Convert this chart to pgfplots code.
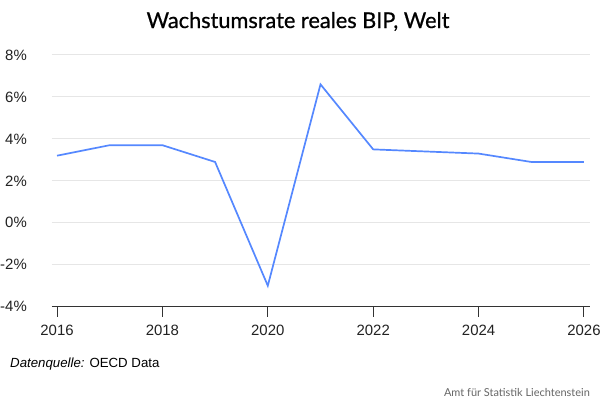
\documentclass[border=0pt]{standalone}
\usepackage{fontspec}
\setmainfont{Liberation Sans}
\newfontfamily\titlefont{Lato}
\newfontfamily\titlefontb[FakeBold=0.7]{Lato}
\usepackage{pgfplots}
\pgfplotsset{compat=1.18}
\definecolor{linecol}{RGB}{85,136,255}
\definecolor{gridcol}{RGB}{230,230,230}
\definecolor{axiscol}{RGB}{51,51,51}
\definecolor{textcol}{RGB}{34,34,34}
\definecolor{footcol}{RGB}{102,102,102}
\begin{document}
\begin{tikzpicture}
\useasboundingbox[fill=white] (0,0) rectangle (600bp,-400bp);
\begin{axis}[
  at={(52bp,-306.7bp)}, anchor=south west,
  scale only axis, width=538bp, height=251.7bp,
  xmin=2015.905, xmax=2026.114, ymin=-4, ymax=8,
  xtick={2016,2018,2020,2022,2024,2026},
  xticklabels={2016,2018,2020,2022,2024,2026},
  ytick={-4,-2,0,2,4,6,8},
  yticklabels={-4\%,-2\%,0\%,2\%,4\%,6\%,8\%},
  axis lines*=left,
  axis x line*=bottom,
  x axis line style={draw=axiscol, line width=1bp, -},
  y axis line style={draw=none, -},
  ymajorgrids, grid style={draw=gridcol, line width=1bp},
  tick align=outside,
  xtick style={draw=axiscol, line width=1bp},
  major tick length=10bp,
  ytick style={draw=none},
  ticklabel style={font=\fontsize{15}{18}\selectfont, text=textcol, inner sep=0pt},
  xticklabel style={anchor=north, yshift=-8bp},
  yticklabel style={anchor=east, xshift=-15bp},
  clip=false,
]
\addplot[color=linecol, line width=1.7bp, mark=none] coordinates {
  (2016,3.2) (2017,3.7) (2018,3.7) (2019,2.9) (2020,-3.0) (2021,6.6)
  (2022,3.5) (2023,3.4) (2024,3.3) (2025,2.9) (2026,2.9)
};
\end{axis}
\node[anchor=base, inner sep=0pt, text=black] at (298bp,-28bp) {\titlefontb\fontsize{21.8}{25}\selectfont Wachstumsrate reales BIP, Welt};
\node[anchor=base west, inner sep=0pt, text=black] at (10bp,-367.5bp) {\fontsize{13.3}{16}\selectfont\textit{Datenquelle:} OECD Data};
\node[anchor=base east, inner sep=0pt, text=footcol] at (590bp,-396bp) {\titlefont\fontsize{11}{13}\selectfont Amt für Statistik Liechtenstein};
\end{tikzpicture}
\end{document}
